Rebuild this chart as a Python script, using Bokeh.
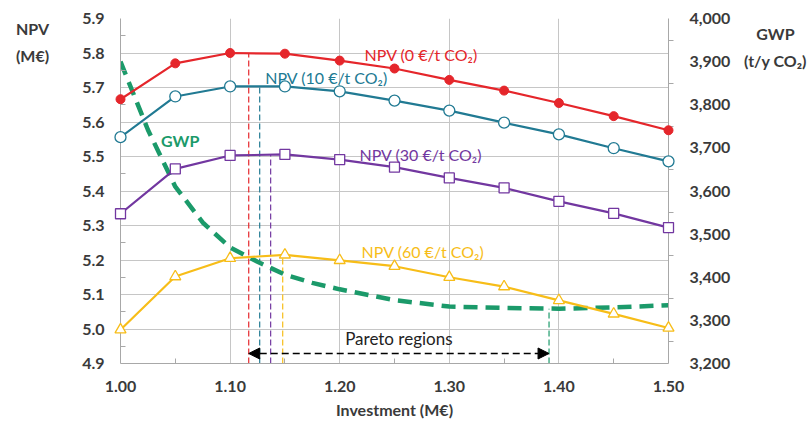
from bokeh.plotting import figure
from bokeh.models import (Range1d, LinearAxis, FixedTicker, NumeralTickFormatter,
                          Label, Arrow, NormalHead)
from bokeh.core.properties import value
from bokeh.embed import file_html
from bokeh.resources import INLINE

# ---------------- data ----------------
investment = [1.00, 1.05, 1.10, 1.15, 1.20, 1.25, 1.30, 1.35, 1.40, 1.45, 1.50]
npv_0 = [5.666, 5.770, 5.800, 5.798, 5.778, 5.755, 5.722, 5.691, 5.655, 5.617, 5.576]
npv_10 = [5.556, 5.674, 5.703, 5.703, 5.689, 5.662, 5.633, 5.598, 5.564, 5.524, 5.486]
npv_30 = [5.334, 5.464, 5.503, 5.506, 5.491, 5.469, 5.438, 5.409, 5.370, 5.335, 5.294]
npv_60 = [4.998, 5.152, 5.205, 5.215, 5.199, 5.182, 5.150, 5.123, 5.083, 5.044, 5.003]

gwp_investment = [1.000, 1.025, 1.050, 1.075, 1.100, 1.125, 1.150, 1.175, 1.200,
                  1.250, 1.300, 1.350, 1.400, 1.450, 1.500]
gwp = [3900, 3742, 3610, 3527, 3469, 3436, 3406, 3387, 3372,
       3347, 3332, 3329, 3327, 3330, 3335]

# optimum (Pareto) investments for each NPV curve and the GWP minimum
opt_investment = [1.117, 1.127, 1.137, 1.148]
opt_npv = [5.800, 5.703, 5.506, 5.215]
gwp_min_investment = 1.391
gwp_min_value = 3327

x_ticks = [1.00, 1.10, 1.20, 1.30, 1.40, 1.50]
x_minor = [1.05, 1.15, 1.25, 1.35, 1.45]
npv_ticks = [4.9, 5.0, 5.1, 5.2, 5.3, 5.4, 5.5, 5.6, 5.7, 5.8, 5.9]
npv_minor = [4.95, 5.05, 5.15, 5.25, 5.35, 5.45, 5.55, 5.65, 5.75, 5.85]
gwp_ticks = [3200, 3300, 3400, 3500, 3600, 3700, 3800, 3900, 4000]
gwp_minor = [3250, 3350, 3450, 3550, 3650, 3750, 3850, 3950]

# ---------------- styles ----------------
RED = "#e5262b"
TEAL = "#217a93"
PURPLE = "#7237a0"
YELLOW = "#f7bd18"
GREEN = "#1b9a6a"
TXT = "#3a3a3a"
GRID = "#c6c6c6"
FONT = "Lato"

p = figure(width=808, height=421, output_backend="svg", toolbar_location=None,
           x_range=Range1d(1.0, 1.5), y_range=Range1d(4.9, 5.9),
           min_border_left=120, min_border_right=140, min_border_top=18,
           min_border_bottom=58)
p.extra_y_ranges = {"gwp": Range1d(3200, 4000)}
p.outline_line_color = None
p.background_fill_color = "white"
p.border_fill_color = "white"

# axes
p.xaxis.ticker = FixedTicker(ticks=x_ticks, minor_ticks=x_minor)
p.yaxis.ticker = FixedTicker(ticks=npv_ticks, minor_ticks=npv_minor)
p.xaxis.formatter = NumeralTickFormatter(format="0.00")
p.yaxis.formatter = NumeralTickFormatter(format="0.0")

ax_r = LinearAxis(y_range_name="gwp",
                  ticker=FixedTicker(ticks=gwp_ticks, minor_ticks=gwp_minor),
                  formatter=NumeralTickFormatter(format="0,0"))
p.add_layout(ax_r, "right")

for ax in [p.xaxis[0], p.yaxis[0], ax_r]:
    ax.axis_line_color = "#a8a8a8"
    ax.major_tick_in = 0
    ax.major_tick_out = 0
    ax.minor_tick_line_color = "#a8a8a8"
    ax.major_label_text_font = FONT
    ax.major_label_text_font_style = "bold"
    ax.major_label_text_font_size = "16px"
    ax.major_label_text_color = TXT
    ax.major_label_standoff = 16

p.xaxis.minor_tick_in = 5
p.xaxis.minor_tick_out = 0
p.xaxis.major_label_standoff = 17
p.yaxis.minor_tick_in = 5
p.yaxis.minor_tick_out = 0
ax_r.minor_tick_in = 0
ax_r.minor_tick_out = 5
ax_r.major_label_standoff = 16

p.xaxis.axis_label = "Investment (M€)"
p.xaxis.axis_label_text_font = FONT
p.xaxis.axis_label_text_font_style = "bold"
p.xaxis.axis_label_text_font_size = "16px"
p.xaxis.axis_label_text_color = TXT
p.xaxis.axis_label_standoff = 5

p.xgrid.ticker = FixedTicker(ticks=x_ticks)
p.ygrid.ticker = FixedTicker(ticks=npv_ticks)
p.xgrid.grid_line_color = GRID
p.ygrid.grid_line_color = GRID

# vertical optimum lines
opt_colors = [RED, TEAL, PURPLE, YELLOW]
p.segment(x0=opt_investment, y0=[4.9] * 4, x1=opt_investment, y1=opt_npv,
          line_color=opt_colors, line_dash="6 3", line_width=1.2)
p.segment(x0=[gwp_min_investment], y0=[3200], x1=[gwp_min_investment],
          y1=[gwp_min_value], y_range_name="gwp",
          line_color=GREEN, line_dash="6 3", line_width=1.2)

# GWP dashed curve
p.line(gwp_investment, gwp, y_range_name="gwp", line_color=GREEN,
       line_width=4.5, line_dash="14 8")

# NPV lines
for ys, c in [(npv_0, RED), (npv_10, TEAL), (npv_30, PURPLE), (npv_60, YELLOW)]:
    p.line(investment, ys, line_color=c, line_width=2.2)

p.scatter(investment, npv_0, marker="circle", size=9, fill_color=RED,
          line_color=RED, level="annotation")
p.scatter(investment, npv_10, marker="circle", size=11, fill_color="white",
          line_color=TEAL, line_width=1.3, level="annotation")
p.scatter(investment, npv_30, marker="square", size=10, fill_color="white",
          line_color=PURPLE, line_width=1.3, level="annotation")
p.scatter(investment, npv_60, marker="triangle", size=11, fill_color="white",
          line_color=YELLOW, line_width=1.3, level="annotation")

# Pareto arrow
arrow = Arrow(start=NormalHead(size=11, fill_color="black", line_color="black"),
              end=NormalHead(size=11, fill_color="black", line_color="black"),
              x_start=opt_investment[0], y_start=4.929,
              x_end=gwp_min_investment, y_end=4.929,
              line_color="black", line_width=1.4, line_dash="7 4")
p.add_layout(arrow)


def lab(x, y, text, color, size="16px", style="normal", align="left"):
    p.add_layout(Label(x=x, y=y, text=text, text_color=color,
                       text_font=FONT, text_font_size=size,
                       text_font_style=style, text_align=align,
                       text_baseline="middle"))


lab(1.254, 4.973, "Pareto regions", "#222222", size="17px", align="center")
lab(1.2226, 5.797, "NPV (0 €/t CO₂)", RED)
lab(1.132, 5.73, "NPV (10 €/t CO₂)", TEAL)
lab(1.218, 5.507, "NPV (30 €/t CO₂)", PURPLE)
lab(1.220, 5.225, "NPV (60 €/t CO₂)", YELLOW)
lab(1.037, 5.545, "GWP", GREEN, style="bold")

# outer axis titles (text glyphs at annotation level so they are not clipped)
p.text(x=[0.9197, 0.9197, 1.5976, 1.5976],
       y=[5.871, 5.793, 5.857, 5.778],
       text=["NPV", "(M€)", "GWP", "(t/y CO₂)"],
       text_color=TXT, text_font=value(FONT), text_font_size="16px",
       text_font_style="bold", text_align="center", text_baseline="middle",
       level="annotation")

open("out.html", "w").write(file_html(p, INLINE))
